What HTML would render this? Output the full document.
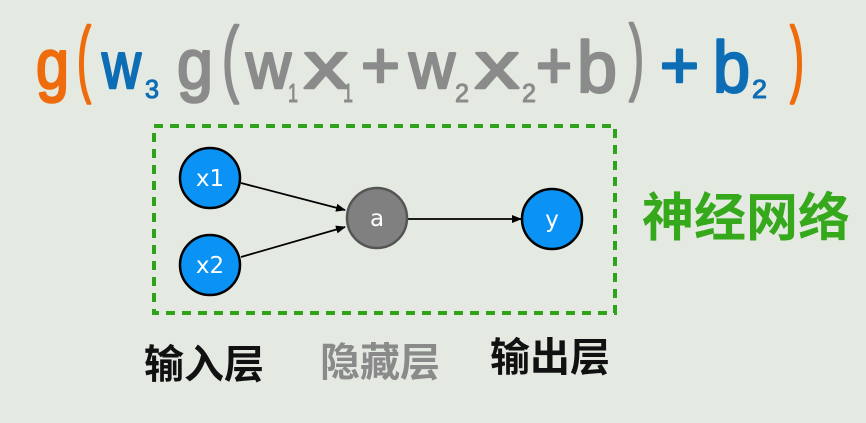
<!DOCTYPE html>
<html><head><meta charset="utf-8"><style>
html,body{margin:0;padding:0;background:#e4e9e2;width:866px;height:423px;overflow:hidden}
svg{display:block}
</style></head><body>
<svg width="866" height="423" viewBox="0 0 866 423" xmlns="http://www.w3.org/2000/svg">
<rect width="866" height="423" fill="#e4e9e2"/>
<defs><marker id="ah" markerWidth="10" markerHeight="8" refX="9" refY="4" orient="auto" markerUnits="userSpaceOnUse"><path d="M0,0 L10,4 L0,8 z" fill="#000"/></marker></defs>
<g font-family="Liberation Sans, DejaVu Sans, sans-serif" stroke-width="2.5" stroke-linejoin="round" lengthAdjust="spacingAndGlyphs">
<text x="36" y="88" font-size="70" fill="#ee6c0c" stroke="#ee6c0c" textLength="33" lengthAdjust="spacingAndGlyphs">g</text>
<text x="77" y="86" font-size="84" fill="#ee6c0c" stroke="#ee6c0c" textLength="14" lengthAdjust="spacingAndGlyphs">(</text>
<text x="102" y="88" font-size="66" fill="#0d6db5" stroke="#0d6db5" textLength="39" lengthAdjust="spacingAndGlyphs">w</text>
<text x="145" y="98" font-size="26" fill="#0d6db5" stroke="#0d6db5" stroke-width="1" textLength="14" lengthAdjust="spacingAndGlyphs">3</text>
<text x="177" y="88" font-size="70" fill="#8b8b8b" stroke="#8b8b8b" textLength="36" lengthAdjust="spacingAndGlyphs">g</text>
<text x="222" y="86" font-size="84" fill="#8b8b8b" stroke="#8b8b8b" textLength="17" lengthAdjust="spacingAndGlyphs">(</text>
<text x="246" y="88" font-size="66" fill="#8b8b8b" stroke="#8b8b8b" textLength="45" lengthAdjust="spacingAndGlyphs">w</text>
<text x="288" y="102" font-size="26" fill="#8b8b8b" stroke="#8b8b8b" stroke-width="1" textLength="10" lengthAdjust="spacingAndGlyphs">1</text>
<text x="304" y="88" font-size="66" fill="#8b8b8b" stroke="#8b8b8b" textLength="44" lengthAdjust="spacingAndGlyphs">x</text>
<text x="343" y="102" font-size="26" fill="#8b8b8b" stroke="#8b8b8b" stroke-width="1" textLength="10" lengthAdjust="spacingAndGlyphs">1</text>
<text x="361" y="88" font-size="66" fill="#8b8b8b" stroke="#8b8b8b" textLength="39" lengthAdjust="spacingAndGlyphs">+</text>
<text x="409" y="88" font-size="66" fill="#8b8b8b" stroke="#8b8b8b" textLength="46" lengthAdjust="spacingAndGlyphs">w</text>
<text x="455" y="102" font-size="26" fill="#8b8b8b" stroke="#8b8b8b" stroke-width="1" textLength="14" lengthAdjust="spacingAndGlyphs">2</text>
<text x="475" y="88" font-size="66" fill="#8b8b8b" stroke="#8b8b8b" textLength="44" lengthAdjust="spacingAndGlyphs">x</text>
<text x="522" y="102" font-size="26" fill="#8b8b8b" stroke="#8b8b8b" stroke-width="1" textLength="14" lengthAdjust="spacingAndGlyphs">2</text>
<text x="536" y="88" font-size="66" fill="#8b8b8b" stroke="#8b8b8b" textLength="36" lengthAdjust="spacingAndGlyphs">+</text>
<text x="577" y="92" font-size="72" fill="#8b8b8b" stroke="#8b8b8b" textLength="40" lengthAdjust="spacingAndGlyphs">b</text>
<text x="629" y="84" font-size="84" fill="#8b8b8b" stroke="#8b8b8b" textLength="15" lengthAdjust="spacingAndGlyphs">)</text>
<text x="660" y="88" font-size="66" fill="#0d6db5" stroke="#0d6db5" textLength="39" lengthAdjust="spacingAndGlyphs">+</text>
<text x="713" y="92" font-size="72" fill="#0d6db5" stroke="#0d6db5" textLength="37" lengthAdjust="spacingAndGlyphs">b</text>
<text x="752" y="98" font-size="26" fill="#0d6db5" stroke="#0d6db5" stroke-width="1" textLength="15" lengthAdjust="spacingAndGlyphs">2</text>
<text x="790" y="86" font-size="84" fill="#ee6c0c" stroke="#ee6c0c" textLength="14" lengthAdjust="spacingAndGlyphs">)</text>
</g>
<rect x="154" y="126" width="461" height="187" fill="none" stroke="#2ea31a" stroke-width="4" stroke-dasharray="9,7"/>
<line x1="241" y1="183" x2="345" y2="210" stroke="#000" stroke-width="1.8" marker-end="url(#ah)"/>
<line x1="241" y1="257" x2="345" y2="227" stroke="#000" stroke-width="1.8" marker-end="url(#ah)"/>
<line x1="407" y1="219" x2="521" y2="219" stroke="#000" stroke-width="1.8" marker-end="url(#ah)"/>
<g stroke="#000" stroke-width="2.5">
<circle cx="210" cy="178" r="30" fill="#0a93f5"/>
<circle cx="210" cy="265" r="30" fill="#0a93f5"/>
<circle cx="377" cy="218" r="30" fill="#808080" stroke="#555"/>
<circle cx="552" cy="219" r="30" fill="#0a93f5"/>
</g>
<g font-family="DejaVu Sans, Liberation Sans, sans-serif" font-size="23" fill="#fff" text-anchor="middle">
<text x="210" y="186">x1</text>
<text x="210" y="273">x2</text>
<text x="377" y="226">a</text>
<text x="552" y="227">y</text>
</g>
<g font-family="Liberation Sans, Noto Sans CJK SC, sans-serif" font-weight="bold">
<text x="642" y="236" font-size="52" fill="#36a81c">神经网络</text>
<text x="144" y="378" font-size="40" fill="#111">输入层</text>
<text x="320" y="376" font-size="40" fill="#8a8a8a">隐藏层</text>
<text x="490" y="371" font-size="40" fill="#111">输出层</text>
</g>
</svg>
</body></html>
